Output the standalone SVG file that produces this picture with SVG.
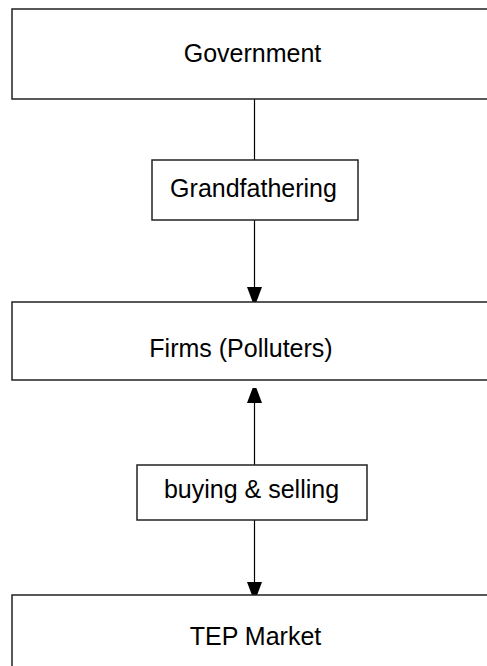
<svg xmlns="http://www.w3.org/2000/svg" width="487" height="666" viewBox="0 0 487 666">
<style>
.box{fill:#fff;stroke:#222;stroke-width:1.5}
.lbl{font-family:"Liberation Sans",Arial,sans-serif;font-size:25px;fill:#000;text-anchor:middle}
.ln{stroke:#000;stroke-width:1.2;fill:none}
</style>
<defs>
<marker id="ah" viewBox="0 0 15 20" refX="15" refY="7.5" markerWidth="15" markerHeight="20" markerUnits="userSpaceOnUse" orient="auto">
<path d="M0,0 L20,7.5 L0,15 Z" fill="#000"/>
</marker>
</defs>
<rect width="487" height="666" fill="#fff"/>
<g id="connectors">
<line class="ln" x1="254.5" y1="99" x2="254.5" y2="160"/>
<line class="ln" x1="254.5" y1="220" x2="254.5" y2="302" marker-end="url(#ah)"/>
<line class="ln" x1="254.5" y1="465" x2="254.5" y2="388" marker-end="url(#ah)"/>
<line class="ln" x1="254.5" y1="520" x2="254.5" y2="597" marker-end="url(#ah)"/>
</g>
<g id="government">
<rect class="box" x="12" y="9" width="490" height="90"/>
<text class="lbl" x="252.5" y="62">Government</text>
</g>
<g id="grandfathering">
<rect class="box" x="152" y="160" width="206" height="60"/>
<text class="lbl" x="253.5" y="197">Grandfathering</text>
</g>
<g id="firms">
<rect class="box" x="12" y="302" width="490" height="78"/>
<text class="lbl" x="241" y="357">Firms (Polluters)</text>
</g>
<g id="buying">
<rect class="box" x="137" y="465" width="230" height="55"/>
<text class="lbl" x="251.5" y="498">buying &amp; selling</text>
</g>
<g id="tep">
<rect class="box" x="12" y="595" width="490" height="90"/>
<text class="lbl" x="255.5" y="645">TEP Market</text>
</g>
</svg>
